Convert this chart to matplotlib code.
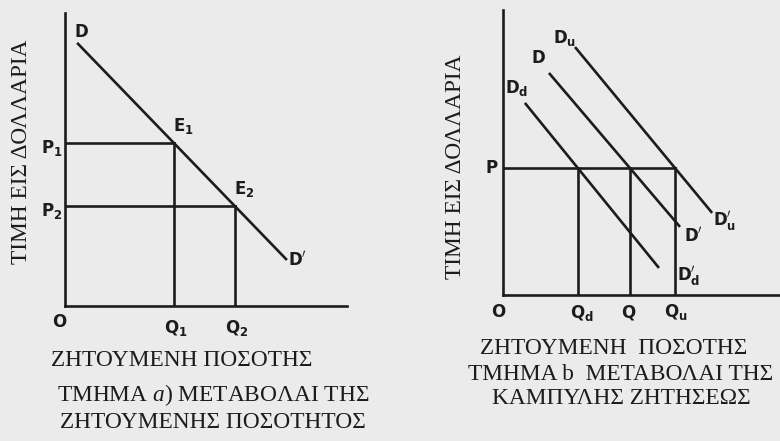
import numpy as np
import matplotlib
matplotlib.use("Agg")
import matplotlib.pyplot as plt

plt.rcParams["mathtext.default"] = "regular"
plt.rcParams["mathtext.fontset"] = "custom"
plt.rcParams["mathtext.it"] = "Liberation Serif:italic"
plt.rcParams["mathtext.rm"] = "Liberation Serif"

# ---- Panel a: movement along one demand curve ----
demand_q = [0.43, 7.87]          # quantity at the two ends of DD'
demand_p = [8.98, 1.57]          # price at the two ends of DD'
prices_a = [5.55, 3.40]          # P1, P2
price_labels_a = ["$P_1$", "$P_2$"]
qty_labels_a = ["$Q_1$", "$Q_2$"]
point_labels_a = ["$E_1$", "$E_2$"]

# ---- Panel b: shifts of the demand curve ----
curve_names = ["$D_u$", "D", "$D_d$"]
curve_end_names = ["$\\mathregular{D}_{\\mathregular{u}}^{\\mathrm{\\prime}}$",
                   "$\\mathregular{D}^{\\mathrm{\\prime}}$",
                   "$\\mathregular{D}_{\\mathregular{d}}^{\\mathrm{\\prime}}$"]
curve_q = [[2.60, 7.55], [1.66, 6.39], [0.79, 5.63]]
curve_p = [[8.70, 2.88], [7.79, 2.39], [6.74, 0.95]]
price_b = 4.46
qty_labels_b = ["$Q_u$", "Q", "$Q_d$"]

INK = "#1c1c1c"
BG = "#ebebeb"
LW = 1.9
label_font = dict(family="DejaVu Sans", weight="semibold", size=12, color=INK)
serif = dict(family="Liberation Serif", size=16.8, color=INK)


def q_at(price, qs, ps):
    # quantity demanded at a given price along a straight demand line
    return np.interp(price, ps[::-1], qs[::-1])


def setup_axes(ax):
    ax.set_xlim(0, 10)
    ax.set_ylim(0, 10)
    ax.patch.set_alpha(0)
    for side in ("top", "right"):
        ax.spines[side].set_visible(False)
    for side in ("left", "bottom"):
        ax.spines[side].set_linewidth(LW)
        ax.spines[side].set_color(INK)
    ax.set_xticks([])
    ax.set_yticks([])


def tag(ax, text, xy, dx, dy, ha="center", va="center", **kw):
    # dx, dy are pixel offsets (dy positive = downwards)
    ax.annotate(text, xy=xy, xytext=(dx * 0.72, -dy * 0.72), textcoords="offset points",
                ha=ha, va=va, annotation_clip=False, **label_font, **kw)


fig = plt.figure(figsize=(7.8, 4.41), dpi=100, facecolor=BG)

# ---------------- panel a ----------------
ax1 = fig.add_axes([65 / 780, 1 - 306 / 441, 282 / 780, 293 / 441])
setup_axes(ax1)
ax1.plot(demand_q, demand_p, color=INK, lw=LW, solid_capstyle="butt")
for p, pl, ql, el in zip(prices_a, price_labels_a, qty_labels_a, point_labels_a):
    q = q_at(p, demand_q, demand_p)
    ax1.plot([0, q], [p, p], color=INK, lw=LW)
    ax1.plot([q, q], [0, p], color=INK, lw=LW)
    tag(ax1, pl, (0, p), -13, 5)
    tag(ax1, ql, (q, 0), 2, 22)
    tag(ax1, el, (q, p), 9, -17)
tag(ax1, "D", (demand_q[0], demand_p[0]), 4, -11)
tag(ax1, "$\\mathregular{D}^{\\mathrm{\\prime}}$", (demand_q[1], demand_p[1]), 11, 0,
    math_fontfamily="cm")
tag(ax1, "O", (0, 0), -6, 16)

# ---------------- panel b ----------------
ax2 = fig.add_axes([503 / 780, 1 - 295 / 441, 277 / 780, 285 / 441])
setup_axes(ax2)
start_off = [(-10, -9), (-11, -15), (-8, -15)]
end_off = [(12, 8), (14, 9), (30, 8)]
qty_off = [(1, 17), (-2, 17), (4, 18)]
q_b = []
for qs, ps, nm, en, so, eo in zip(curve_q, curve_p, curve_names, curve_end_names,
                                   start_off, end_off):
    ax2.plot(qs, ps, color=INK, lw=LW, solid_capstyle="butt")
    tag(ax2, nm, (qs[0], ps[0]), *so)
    tag(ax2, en, (qs[1], ps[1]), *eo, math_fontfamily="cm")
    q_b.append(q_at(price_b, qs, ps))
ax2.plot([0, max(q_b)], [price_b, price_b], color=INK, lw=LW)
for q, ql, qo in zip(q_b, qty_labels_b, qty_off):
    ax2.plot([q, q], [0, price_b], color=INK, lw=LW)
    tag(ax2, ql, (q, 0), *qo)
tag(ax2, "P", (0, price_b), -11, 0)
tag(ax2, "O", (0, 0), -5, 17)

# ---------------- axis titles and captions ----------------
W, H = 780, 441
fig.text(22 / W, 1 - 152 / H, "ΤΙΜΗ ΕΙΣ ΔΟΛΛΑΡΙΑ", rotation=90, ha="center", va="center", **serif)
fig.text(182 / W, 1 - 360 / H, "ΖΗΤΟΥΜΕΝΗ ΠΟΣΟΤΗΣ", ha="center", va="center", **serif)
fig.text(213 / W, 1 - 395 / H, "ΤΜΗΜΑ $\\mathit{a}$) ΜΕΤΑΒΟΛΑΙ ΤΗΣ", ha="center", va="center", **serif)
fig.text(213 / W, 1 - 423 / H, "ΖΗΤΟΥΜΕΝΗΣ ΠΟΣΟΤΗΤΟΣ", ha="center", va="center", **serif)

fig.text(455 / W, 1 - 167 / H, "ΤΙΜΗ ΕΙΣ ΔΟΛΛΑΡΙΑ", rotation=90, ha="center", va="center", **serif)
fig.text(614 / W, 1 - 348 / H, "ΖΗΤΟΥΜΕΝΗ  ΠΟΣΟΤΗΣ", ha="center", va="center", **serif)
fig.text(621 / W, 1 - 375 / H, "ΤΜΗΜΑ b  ΜΕΤΑΒΟΛΑΙ ΤΗΣ", ha="center", va="center", **serif)
fig.text(621 / W, 1 - 398 / H, "ΚΑΜΠΥΛΗΣ ΖΗΤΗΣΕΩΣ", ha="center", va="center", **serif)

fig.savefig("out.png", dpi=100, facecolor=BG)
